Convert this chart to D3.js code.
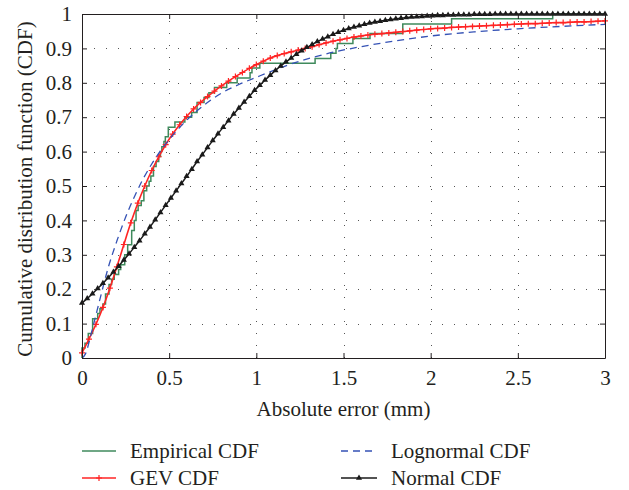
<!DOCTYPE html>
<html>
<head>
<meta charset="utf-8">
<script src="https://cdn.jsdelivr.net/npm/d3@7"></script>
<style>
  html, body { margin: 0; padding: 0; background: #ffffff; }
  svg { display: block; }
</style>
</head>
<body>
<svg id="chart" width="629" height="490"></svg>
<script>
// ---------- data ----------
const xTicks = [0, 0.5, 1, 1.5, 2, 2.5, 3];
const xTickLabels = ["0", "0.5", "1", "1.5", "2", "2.5", "3"];
const yTicks = [0, 0.1, 0.2, 0.3, 0.4, 0.5, 0.6, 0.7, 0.8, 0.9, 1];
const yTickLabels = ["0", "0.1", "0.2", "0.3", "0.4", "0.5", "0.6", "0.7", "0.8", "0.9", "1"];

// Empirical CDF: jump positions and level after each jump
const empiricalX = [0.000,0.017,0.036,0.061,0.090,0.103,0.120,0.135,0.155,0.170,0.185,0.210,0.222,0.245,0.262,0.285,0.300,0.310,0.322,0.340,0.355,0.371,0.385,0.395,0.410,0.425,0.440,0.450,0.458,0.470,0.478,0.495,0.533,0.590,0.629,0.660,0.700,0.728,0.760,0.830,0.890,0.964,0.975,1.020,1.337,1.427,1.457,1.465,1.554,1.652,1.840,2.120,2.700];
const empiricalY = [0.029,0.043,0.071,0.114,0.129,0.143,0.157,0.186,0.214,0.229,0.243,0.257,0.271,0.300,0.329,0.371,0.400,0.429,0.443,0.457,0.486,0.500,0.514,0.529,0.557,0.571,0.586,0.600,0.614,0.629,0.643,0.671,0.686,0.700,0.714,0.743,0.757,0.771,0.786,0.800,0.814,0.829,0.843,0.857,0.871,0.886,0.900,0.914,0.929,0.943,0.971,0.986,1.000];

// GEV CDF sampled every 0.04 from 0 to 3
const gevStep = 0.04;
const gevY = [
  0.015,0.055,0.098,0.147,0.203,0.265,0.330,0.393,0.450,0.500,
  0.545,0.585,0.620,0.651,0.678,0.702,0.724,0.743,0.760,0.776,
  0.791,0.805,0.818,0.830,0.842,0.853,0.863,0.872,0.879,0.885,
  0.890,0.895,0.900,0.905,0.911,0.916,0.921,0.925,0.929,0.933,
  0.936,0.939,0.941,0.943,0.945,0.947,0.949,0.951,0.953,0.955,
  0.957,0.958,0.959,0.961,0.962,0.963,0.964,0.965,0.966,0.967,
  0.968,0.969,0.970,0.971,0.972,0.972,0.973,0.974,0.975,0.975,
  0.976,0.977,0.977,0.978,0.979,0.980
];

// Lognormal CDF
const lognormalX = [0,0.02,0.05,0.08,0.10,0.15,0.20,0.25,0.30,0.35,0.40,0.50,0.60,0.70,0.80,0.90,1.00,1.20,1.40,1.60,1.80,2.00,2.25,2.50,2.75,3.00];
const lognormalY = [0,0.012,0.065,0.125,0.165,0.262,0.340,0.409,0.468,0.520,0.564,0.635,0.691,0.735,0.770,0.795,0.816,0.855,0.884,0.905,0.922,0.936,0.948,0.957,0.964,0.970];

// Normal CDF sampled every 0.03 from 0 to 3
const normalStep = 0.03;
const normalY = [
  0.160,0.173,0.187,0.202,0.217,0.233,0.250,0.267,0.285,0.303,
  0.322,0.341,0.361,0.381,0.402,0.423,0.444,0.465,0.486,0.507,
  0.528,0.549,0.571,0.591,0.612,0.632,0.652,0.671,0.690,0.709,
  0.727,0.744,0.761,0.778,0.793,0.808,0.822,0.836,0.849,0.861,
  0.872,0.883,0.893,0.903,0.911,0.920,0.927,0.934,0.941,0.947,
  0.953,0.958,0.962,0.966,0.970,0.974,0.977,0.979,0.982,0.984,
  0.986,0.988,0.990,0.991,0.992,0.993,0.994,0.995,0.996,0.996,
  0.997,0.997,0.998,0.998,0.998,0.999,0.999,0.999,0.999,1.000,
  1.000,1.000,1.000,1.000,1.000,1.000,1.000,1.000,1.000,1.000,
  1.000,1.000,1.000,1.000,1.000,1.000,1.000,1.000,1.000,1.000,
  1.000
];

const seriesNames = ["Empirical CDF", "GEV CDF", "Lognormal CDF", "Normal CDF"];
const xTitle = "Absolute error (mm)";
const yTitle = "Cumulative distribution function (CDF)";

// ---------- pick an installed serif face ----------
function pickSerif() {
  const cands = ["Liberation Serif", "Times New Roman", "Tinos", "Nimbus Roman", "Nimbus Roman No9 L",
                 "DejaVu Serif", "Noto Serif", "FreeSerif", "Times"];
  const ctx = document.createElement("canvas").getContext("2d");
  const s = "Cumulative distribution 0.123456789 (CDF) mmWi";
  ctx.font = "40px monospace"; const wm = ctx.measureText(s).width;
  ctx.font = "40px sans-serif"; const ws = ctx.measureText(s).width;
  for (const c of cands) {
    ctx.font = `40px "${c}", monospace`; const a = ctx.measureText(s).width;
    ctx.font = `40px "${c}", sans-serif`; const b = ctx.measureText(s).width;
    if (a !== wm && b !== ws) return `"${c}", serif`;
  }
  return "serif";
}
const FAMILY = pickSerif();

// ---------- layout ----------
const L = 82, R = 605, T = 14, B = 358;
const FONT = 21;
const colors = { emp: "#3f8a5c", gev: "#ff2424", logn: "#3552b5", norm: "#1a1a1a" };

const svg = d3.select("#chart");
const x = d3.scaleLinear().domain([0, 3]).range([L, R]);
const y = d3.scaleLinear().domain([0, 1]).range([B, T]);

// grid
const grid = svg.append("g").attr("stroke", "#555").attr("stroke-width", 1).attr("stroke-dasharray", "1,11");
grid.selectAll("line.gx").data(xTicks.slice(1, -1)).join("line")
  .attr("x1", d => Math.round(x(d)) + 0.5).attr("x2", d => Math.round(x(d)) + 0.5)
  .attr("y1", B).attr("y2", T);
grid.selectAll("line.gy").data(yTicks.slice(1, -1)).join("line")
  .attr("y1", d => Math.round(y(d)) + 0.5).attr("y2", d => Math.round(y(d)) + 0.5)
  .attr("x1", L).attr("x2", R);

// series
const plot = svg.append("g");

// empirical staircase
const empPts = [[0, 0]].concat(empiricalX.map((v, i) => [v, empiricalY[i]])).concat([[3, 1]]);
plot.append("path").datum(empPts)
  .attr("fill", "none").attr("stroke", colors.emp).attr("stroke-width", 1.5)
  .attr("d", d3.line().x(d => x(d[0])).y(d => y(d[1])).curve(d3.curveStepAfter));

// GEV
const gevPts = gevY.map((v, i) => [i * gevStep, v]);
plot.append("path").datum(gevPts)
  .attr("fill", "none").attr("stroke", colors.gev).attr("stroke-width", 1.6)
  .attr("d", d3.line().x(d => x(d[0])).y(d => y(d[1])).curve(d3.curveMonotoneX));
plot.append("g").selectAll("path").data(gevPts).join("path")
  .attr("transform", d => `translate(${x(d[0])},${y(d[1])})`)
  .attr("d", "M-3,0H3M0,-3V3")
  .attr("stroke", colors.gev).attr("stroke-width", 1.2).attr("fill", "none");

// Lognormal
const lognPts = lognormalX.map((v, i) => [v, lognormalY[i]]);
plot.append("path").datum(lognPts)
  .attr("fill", "none").attr("stroke", colors.logn).attr("stroke-width", 1.3)
  .attr("stroke-dasharray", "7,5")
  .attr("d", d3.line().x(d => x(d[0])).y(d => y(d[1])).curve(d3.curveMonotoneX));

// Normal
const normPts = normalY.map((v, i) => [i * normalStep, v]);
plot.append("path").datum(normPts)
  .attr("fill", "none").attr("stroke", colors.norm).attr("stroke-width", 1.5)
  .attr("d", d3.line().x(d => x(d[0])).y(d => y(d[1])).curve(d3.curveMonotoneX));
const tri = d3.symbol(d3.symbolTriangle).size(16);
plot.append("g").selectAll("path").data(normPts).join("path")
  .attr("transform", d => `translate(${x(d[0])},${y(d[1])})`)
  .attr("d", tri).attr("fill", colors.norm);

// axes (box with inward ticks)
const axisStyle = g => {
  g.attr("font-family", FAMILY).attr("font-size", FONT);
  g.select(".domain").attr("stroke", "#231f20").attr("stroke-width", 1);
  g.selectAll(".tick line").attr("stroke", "#231f20");
  g.selectAll("text").attr("fill", "#231f20");
};
svg.append("g").attr("transform", `translate(0,${B})`)
  .call(d3.axisBottom(x).tickValues(xTicks).tickFormat((d, i) => xTickLabels[i]).tickSizeInner(-5).tickSizeOuter(0).tickPadding(12))
  .call(axisStyle);
svg.append("g").attr("transform", `translate(0,${T})`)
  .call(d3.axisTop(x).tickValues(xTicks).tickFormat("").tickSizeInner(-5).tickSizeOuter(0))
  .call(axisStyle);
svg.append("g").attr("transform", `translate(${L},0)`)
  .call(d3.axisLeft(y).tickValues(yTicks).tickFormat((d, i) => yTickLabels[i]).tickSizeInner(-5).tickSizeOuter(0).tickPadding(10))
  .call(axisStyle);
svg.append("g").attr("transform", `translate(${R},0)`)
  .call(d3.axisRight(y).tickValues(yTicks).tickFormat("").tickSizeInner(-5).tickSizeOuter(0))
  .call(axisStyle);

// titles
const txt = svg.append("g").attr("font-family", FAMILY).attr("font-size", FONT).attr("fill", "#231f20");
txt.append("text").attr("x", (L + R) / 2).attr("y", 416).attr("text-anchor", "middle").text(xTitle);
txt.append("text").attr("transform", `translate(32,189) rotate(-90)`).attr("text-anchor", "middle").text(yTitle);

// legend
const legend = svg.append("g");
const items = [
  { name: seriesNames[0], x0: 82, x1: 116, y: 451, key: "emp" },
  { name: seriesNames[1], x0: 82, x1: 116, y: 478, key: "gev" },
  { name: seriesNames[2], x0: 341, x1: 377, y: 451, key: "logn" },
  { name: seriesNames[3], x0: 341, x1: 377, y: 478, key: "norm" }
];
items.forEach(it => {
  const ln = legend.append("line").attr("x1", it.x0).attr("x2", it.x1).attr("y1", it.y).attr("y2", it.y)
    .attr("stroke", colors[it.key]).attr("stroke-width", it.key === "logn" ? 1.3 : 1.5);
  if (it.key === "logn") ln.attr("stroke-dasharray", "7,5");
  const cx = (it.x0 + it.x1) / 2;
  if (it.key === "gev") {
    legend.append("path").attr("transform", `translate(${cx},${it.y})`).attr("d", "M-3,0H3M0,-3V3")
      .attr("stroke", colors.gev).attr("stroke-width", 1.2);
  }
  if (it.key === "norm") {
    legend.append("path").attr("transform", `translate(${cx},${it.y})`).attr("d", tri).attr("fill", colors.norm);
  }
  txt.append("text").attr("x", it.x1 + 14).attr("y", it.y + 7).text(it.name);
});
</script>
</body>
</html>
